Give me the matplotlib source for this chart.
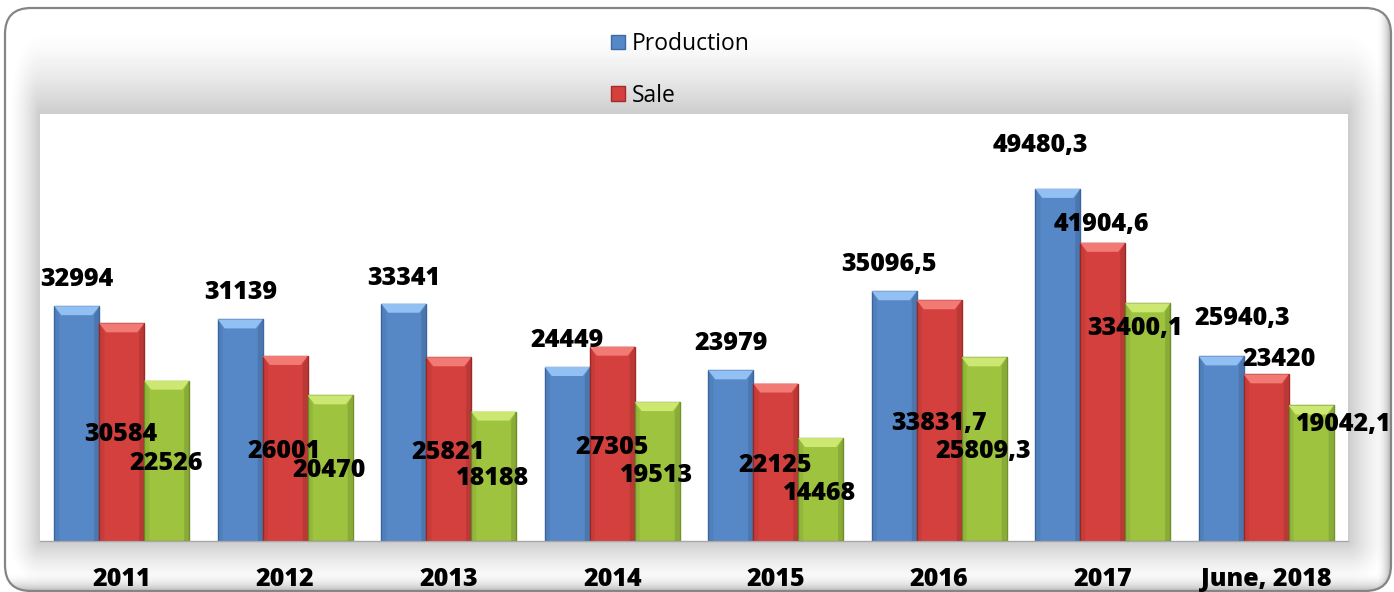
import numpy as np
import matplotlib
matplotlib.use("Agg")
import matplotlib.pyplot as plt
from matplotlib.patches import FancyBboxPatch, Polygon

plt.rcParams['font.family'] = ['Open Sans', 'DejaVu Sans']

# data
categories = ['2011', '2012', '2013', '2014', '2015', '2016', '2017', 'June, 2018']
production = [32994, 31139, 33341, 24449, 23979, 35096.5, 49480.3, 25940.3]
sale = [30584, 26001, 25821, 27305, 22125, 33831.7, 41904.6, 23420]
third = [22526, 20470, 18188, 19513, 14468, 25809.3, 33400.1, 19042.1]

# label offsets in pixels (dx, dy up) relative to the top centre of each bar
prod_off = [(0, 20), (0, 20), (0, 19), (0, 20), (0, 20), (-5, 20), (-17, 37), (21, 31)]
sale_off = [(-1, -118), (-1, -102), (-1, -102), (0, -107), (-1, -88), (0, -130), (-1, 12), (13, 8)]
third_off = [(-1, -89), (-1, -82), (-1, -73), (-1, -80), (-1, -62), (-1, -101), (-13, -32), (33, -26)]

W, H = 1394, 592
fig = plt.figure(figsize=(W / 100, H / 100), dpi=100)
fig.patch.set_facecolor('white')

# plot area in pixels
L, R, T, B = 40, 1348, 114, 541

# background: rounded frame with soft shadow around the plot area
bg = fig.add_axes([0, 0, 1, 1], zorder=0)
bg.set_xlim(0, W)
bg.set_ylim(H, 0)
bg.axis('off')
yy, xx = np.mgrid[0:H, 0:W] + 0.5
nx = np.where(xx < L, (L - xx) / 32.0, np.where(xx > R, (xx - R) / 42.0, 0))
ny = np.where(yy < T, (T - yy) / 85.0, np.where(yy > B, (yy - B) / 45.0, 0))
d = np.sqrt(nx ** 2 + ny ** 2)
shade = 1 - 0.2 * np.clip(1 - d, 0, 1) ** 1.5
shade -= 0.3 * np.clip((yy - 572) / 20.0, 0, 1) ** 2
shade -= 0.35 * np.clip((xx - 1376) / 16.0, 0, 1) ** 2
shade = np.clip(shade, 0, 1)
frame = FancyBboxPatch((5, 8), 1386, 583, boxstyle="round,pad=0,rounding_size=26",
                       facecolor='none', edgecolor='#858585', linewidth=1.6, zorder=3)
bg.add_patch(frame)
img = bg.imshow(shade, cmap='gray', vmin=0, vmax=1, extent=(0, W, H, 0),
                interpolation='bilinear', zorder=1)
img.set_clip_path(frame)

ax = fig.add_axes([L / W, 1 - B / H, (R - L) / W, (B - T) / H], zorder=2)
ax.set_facecolor('white')
ymax = 60000
ax.set_xlim(-0.5, len(categories) - 0.5)
ax.set_ylim(0, ymax)

px_x = (len(categories)) / (R - L)
px_y = ymax / (B - T)

bw = 0.275
x = np.arange(len(categories))
series = [
    ('Production', production, '#5688c7', '#3c6aa6', '#93c0f2', prod_off, -1),
    ('Sale', sale, '#d4403d', '#a22b29', '#f27a75', sale_off, 0),
    ('_third', third, '#9dc33f', '#73922a', '#cde872', third_off, 1),
]

handles = []
for name, vals, col, edge, cap, offs, k in series:
    xs = x + k * bw
    bars = ax.bar(xs, vals, width=bw, color=col, edgecolor=edge, linewidth=1.0,
                  label=name, zorder=2)
    handles.append(bars)
    for xc, v, (dx, dy) in zip(xs, vals, offs):
        x0, x1 = xc - bw / 2, xc + bw / 2
        ins = 7 * px_x
        ch = 9 * px_y
        ax.add_patch(Polygon([(x0, v), (x1, v), (x1 - ins, v - ch), (x0 + ins, v - ch)],
                             closed=True, facecolor=cap, edgecolor='none', zorder=3))
        sw = 5 * px_x
        ax.add_patch(Polygon([(x0, 0), (x0 + sw, 0), (x0 + sw, v - ch), (x0, v)],
                             closed=True, facecolor='black', alpha=0.06, edgecolor='none', zorder=3))
        ax.add_patch(Polygon([(x1, 0), (x1 - sw, 0), (x1 - sw, v - ch), (x1, v)],
                             closed=True, facecolor='black', alpha=0.12, edgecolor='none', zorder=3))
        txt = str(int(v)) if float(v).is_integer() else f"{v:.1f}".replace('.', ',')
        ax.annotate(txt, xy=(xc, v), xytext=(dx, dy), textcoords='offset pixels',
                    ha='center', va='baseline', fontsize=18, fontweight=800,
                    color='black', zorder=5, annotation_clip=False)

ax.set_xticks(x)
ax.set_xticklabels(categories, fontsize=18, fontweight=800)
ax.tick_params(axis='x', length=0, pad=19)
ax.set_yticks([])
for s in ['top', 'left', 'right']:
    ax.spines[s].set_visible(False)
ax.spines['bottom'].set_color('#a8a8a8')
ax.spines['bottom'].set_linewidth(1.0)

fig.legend(handles=handles[:2], labels=['Production', 'Sale'], loc='upper left',
           bbox_to_anchor=(611 / W, 1 - 32 / H), frameon=False, fontsize=16.5,
           handlelength=0.62, handleheight=0.62, handletextpad=0.3,
           labelspacing=1.2, borderpad=0, borderaxespad=0)

fig.savefig('out.png', dpi=100)
